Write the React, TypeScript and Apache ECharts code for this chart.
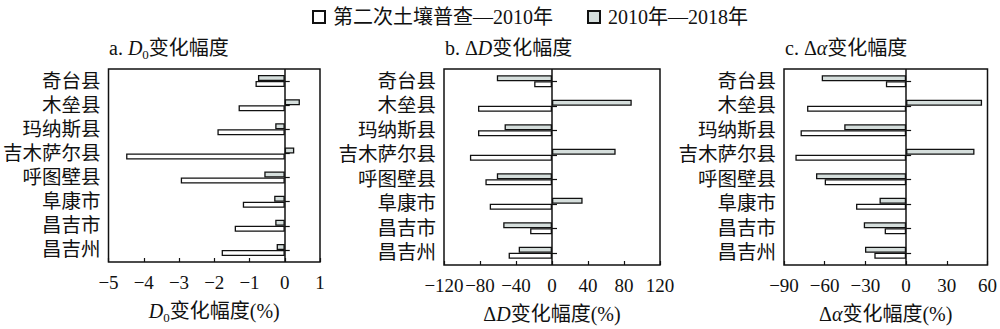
import React, { useEffect, useRef } from "react";
import * as echarts from "echarts";

const categories = ["奇台县", "木垒县", "玛纳斯县", "吉木萨尔县", "呼图壁县", "阜康市", "昌吉市", "昌吉州"];
const seriesNames = ["第二次土壤普查—2010年", "2010年—2018年"];

// a. D0 change (%)
const d0Early = [-0.83, -1.31, -1.91, -4.5, -2.95, -1.19, -1.42, -1.79];
const d0Late = [-0.76, 0.43, -0.27, 0.27, -0.58, -0.3, -0.27, -0.23];
// b. ΔD change (%)
const dDEarly = [-19.8, -82.2, -82.2, -91.2, -74.0, -69.2, -24.3, -48.2];
const dDLate = [-61.3, 88.6, -52.7, 70.7, -61.3, 34.0, -54.2, -37.0];
// c. Δα change (%)
const dAEarly = [-14.9, -73.0, -77.8, -81.6, -60.0, -36.9, -15.8, -23.4];
const dALate = [-62.2, 56.0, -45.6, 50.4, -66.4, -19.6, -31.2, -30.3];

const xRanges = [
  { min: -5, max: 1, interval: 1 },
  { min: -120, max: 120, interval: 40 },
  { min: -90, max: 60, interval: 30 },
];

const FONT = '"Liberation Serif", "Noto Sans CJK SC", serif';
const TXT = "#111";

export default function App() {
  const ref = useRef<HTMLDivElement>(null);
  useEffect(() => {
    if (!ref.current) return;
    const chart = echarts.init(ref.current, null, { renderer: "svg" });

    const grids = [
      { left: 108, width: 212, top: 69, height: 203 },
      { left: 444, width: 216, top: 69, height: 203 },
      { left: 784, width: 209, top: 69, height: 203 },
    ];

    const richBase = {
      n: { fontSize: 20, fontWeight: "normal", fontFamily: FONT, color: TXT, lineHeight: 23, verticalAlign: "bottom" },
      i: { fontSize: 20, fontWeight: "normal", fontFamily: FONT, fontStyle: "italic", color: TXT, lineHeight: 23, verticalAlign: "bottom" },
      s: { fontSize: 13, fontWeight: "normal", fontFamily: FONT, color: TXT, lineHeight: 23, verticalAlign: "bottom", padding: [0, 0, -3, 0] },
    };

    const titles = [
      "{n|a. }{i|D}{s|0}{n|变化幅度}",
      "{n|b. Δ}{i|D}{n|变化幅度}",
      "{n|c. Δ}{i|α}{n|变化幅度}",
    ];
    const names = [
      "{i|D}{s|0}{n|变化幅度(%)}",
      "{n|Δ}{i|D}{n|变化幅度(%)}",
      "{n|Δ}{i|α}{n|变化幅度(%)}",
    ];
    const early = [d0Early, dDEarly, dAEarly];
    const late = [d0Late, dDLate, dALate];

    const option: any = {
      animation: false,
      backgroundColor: "#fff",
      textStyle: { fontFamily: FONT, color: TXT },
      legend: {
        top: 2,
        left: 307,
        icon: "rect",
        itemWidth: 12,
        itemHeight: 12,
        itemGap: 34,
        data: seriesNames,
        textStyle: { fontSize: 20, fontFamily: FONT, color: TXT, padding: [0, 0, 0, 3] },
      },
      title: grids.map((g, k) => ({
        text: titles[k],
        left: g.left + 1,
        top: 35,
        padding: 0,
        textStyle: { fontWeight: "normal", rich: richBase },
      })),
      grid: grids.map((g) => ({
        ...g,
        show: true,
        borderColor: "#111",
        borderWidth: 1.5,
        backgroundColor: "transparent",
        containLabel: false,
      })),
      xAxis: grids.map((g, k) => ({
        type: "value",
        gridIndex: k,
        min: xRanges[k].min,
        max: xRanges[k].max,
        interval: xRanges[k].interval,
        splitLine: { show: false },
        axisLine: { show: false },
        axisTick: { show: true, inside: true, length: 4, lineStyle: { color: "#111", width: 1.2 } },
        axisLabel: {
          fontSize: 19,
          fontFamily: FONT,
          color: TXT,
          margin: 11,
          showMinLabel: true,
          showMaxLabel: true,
          hideOverlap: false,
          formatter: (v: number) => String(v).replace("-", "−"),
        },
        name: names[k],
        nameLocation: "middle",
        nameGap: 36,
        nameTextStyle: { rich: richBase },
      })),
      yAxis: grids.map((g, k) => ({
        type: "category",
        gridIndex: k,
        data: categories,
        inverse: true,
        axisLine: { show: false },
        axisTick: { show: true, inside: true, alignWithLabel: true, interval: 0, length: 5, lineStyle: { color: "#111", width: 1.2 } },
        axisLabel: { fontSize: 19.5, fontFamily: FONT, color: TXT, margin: 8, interval: 0, hideOverlap: false },
      })),
      series: [] as any[],
    };

    grids.forEach((g, k) => {
      option.series.push({
        name: seriesNames[1],
        type: "bar",
        xAxisIndex: k,
        yAxisIndex: k,
        data: late[k],
        barWidth: 6,
        barGap: "0%",
        itemStyle: { color: "#d5dedc", borderColor: "#111", borderWidth: 1.3 },
        markLine: {
          silent: true,
          symbol: "none",
          label: { show: false },
          lineStyle: { color: "#111", type: "solid", width: 1.5 },
          data: [{ xAxis: 0 }],
        },
      });
      option.series.push({
        name: seriesNames[0],
        type: "bar",
        xAxisIndex: k,
        yAxisIndex: k,
        data: early[k],
        barWidth: 6,
        barGap: "0%",
        itemStyle: { color: "#ffffff", borderColor: "#111", borderWidth: 1.3 },
      });
    });

    chart.setOption(option);
    return () => chart.dispose();
  }, []);
  return <div ref={ref} style={{ width: 1000, height: 329, position: "absolute", left: 0, top: 0 }} />;
}
